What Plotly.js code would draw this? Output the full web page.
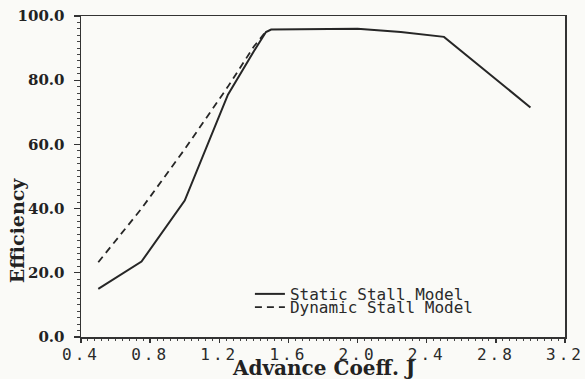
<!DOCTYPE html>
<html>
<head>
<meta charset="utf-8">
<script src="https://cdn.plot.ly/plotly-3.0.1.min.js"></script>
<style>
  html, body { margin: 0; padding: 0; background: #fafaf7; }
  #chart { width: 585px; height: 379px; }
</style>
</head>
<body>
<div id="chart"></div>
<script>
// Propeller efficiency vs advance coefficient J
const staticJ   = [0.5, 0.75, 1.0, 1.25, 1.4, 1.47, 1.5, 1.75, 2.0, 2.25, 2.5, 3.0];
const staticEff = [15.0, 23.5, 42.5, 75.5, 89.0, 95.0, 95.8, 96.0, 96.0, 95.0, 93.5, 71.5];

const dynamicJ   = [0.5, 0.75, 1.0, 1.25, 1.4, 1.46];
const dynamicEff = [23.3, 40.0, 58.5, 78.0, 90.5, 94.5];

const seriesNames = ['Static Stall Model', 'Dynamic Stall Model'];
const xTitle = 'Advance Coeff. J';
const yTitle = 'Efficiency';

const ink = '#262626';
const serifBold = { family: 'DejaVu Serif', weight: 'bold', color: '#222' };
const plotterFont = { family: 'DejaVu Sans Mono', color: '#2a2a2a' };

const traces = [
  {
    x: staticJ, y: staticEff, name: seriesNames[0],
    type: 'scatter', mode: 'lines',
    line: { color: ink, width: 2 },
    legend: 'legend'
  },
  {
    x: dynamicJ, y: dynamicEff, name: seriesNames[1],
    type: 'scatter', mode: 'lines',
    line: { color: ink, width: 1.8, dash: '7px,5px' },
    legend: 'legend2'
  }
];

const axisCommon = {
  showline: true, linecolor: '#333', linewidth: 1.5, mirror: true,
  showgrid: false, zeroline: false,
  ticks: 'outside', tickwidth: 1.3, tickcolor: '#333',
  automargin: false
};

const legendCommon = {
  xanchor: 'left', yanchor: 'middle',
  bgcolor: 'rgba(0,0,0,0)', borderwidth: 0,
  font: Object.assign({ size: 16 }, plotterFont)
};

const layout = {
  width: 585, height: 379,
  margin: { l: 81, r: 20, t: 16, b: 42 },
  paper_bgcolor: '#fafaf7', plot_bgcolor: '#fafaf7',
  showlegend: true,
  xaxis: Object.assign({}, axisCommon, {
    range: [0.4, 3.2], tick0: 0.4, dtick: 0.4, tickformat: '.1f',
    ticklen: 4, ticklabelstandoff: -2,
    tickfont: Object.assign({ size: 16 }, plotterFont),
    minor: { dtick: 0.04, ticks: 'outside', ticklen: 2.5, tickwidth: 1, tickcolor: '#444', showgrid: false }
  }),
  yaxis: Object.assign({}, axisCommon, {
    range: [0, 100], tick0: 0, dtick: 20, tickformat: '.1f',
    ticklen: 6, ticklabelstandoff: 6,
    tickfont: Object.assign({ size: 15 }, serifBold),
    minor: { dtick: 2, ticks: 'outside', ticklen: 3, tickwidth: 1, tickcolor: '#444', showgrid: false }
  }),
  legend: Object.assign({}, legendCommon, { x: 0.349, y: 0.134 }),
  legend2: Object.assign({}, legendCommon, { x: 0.349, y: 0.093 }),
  annotations: [
    {
      text: yTitle, xref: 'paper', yref: 'paper',
      x: -0.132, y: 0.333, xanchor: 'center', yanchor: 'middle',
      textangle: -90, showarrow: false,
      font: Object.assign({ size: 19 }, serifBold)
    },
    {
      text: xTitle, xref: 'paper', yref: 'paper',
      x: 0.5, y: -0.097, xanchor: 'center', yanchor: 'middle',
      showarrow: false,
      font: Object.assign({ size: 20 }, serifBold)
    }
  ]
};

Plotly.newPlot('chart', traces, layout, { displayModeBar: false, staticPlot: true }).then(function (gd) {
  // widen the plotter-style lettering of the J tick numbers
  gd.querySelectorAll('.xtick text').forEach(function (t) { t.style.letterSpacing = '3px'; });
});
</script>
</body>
</html>
